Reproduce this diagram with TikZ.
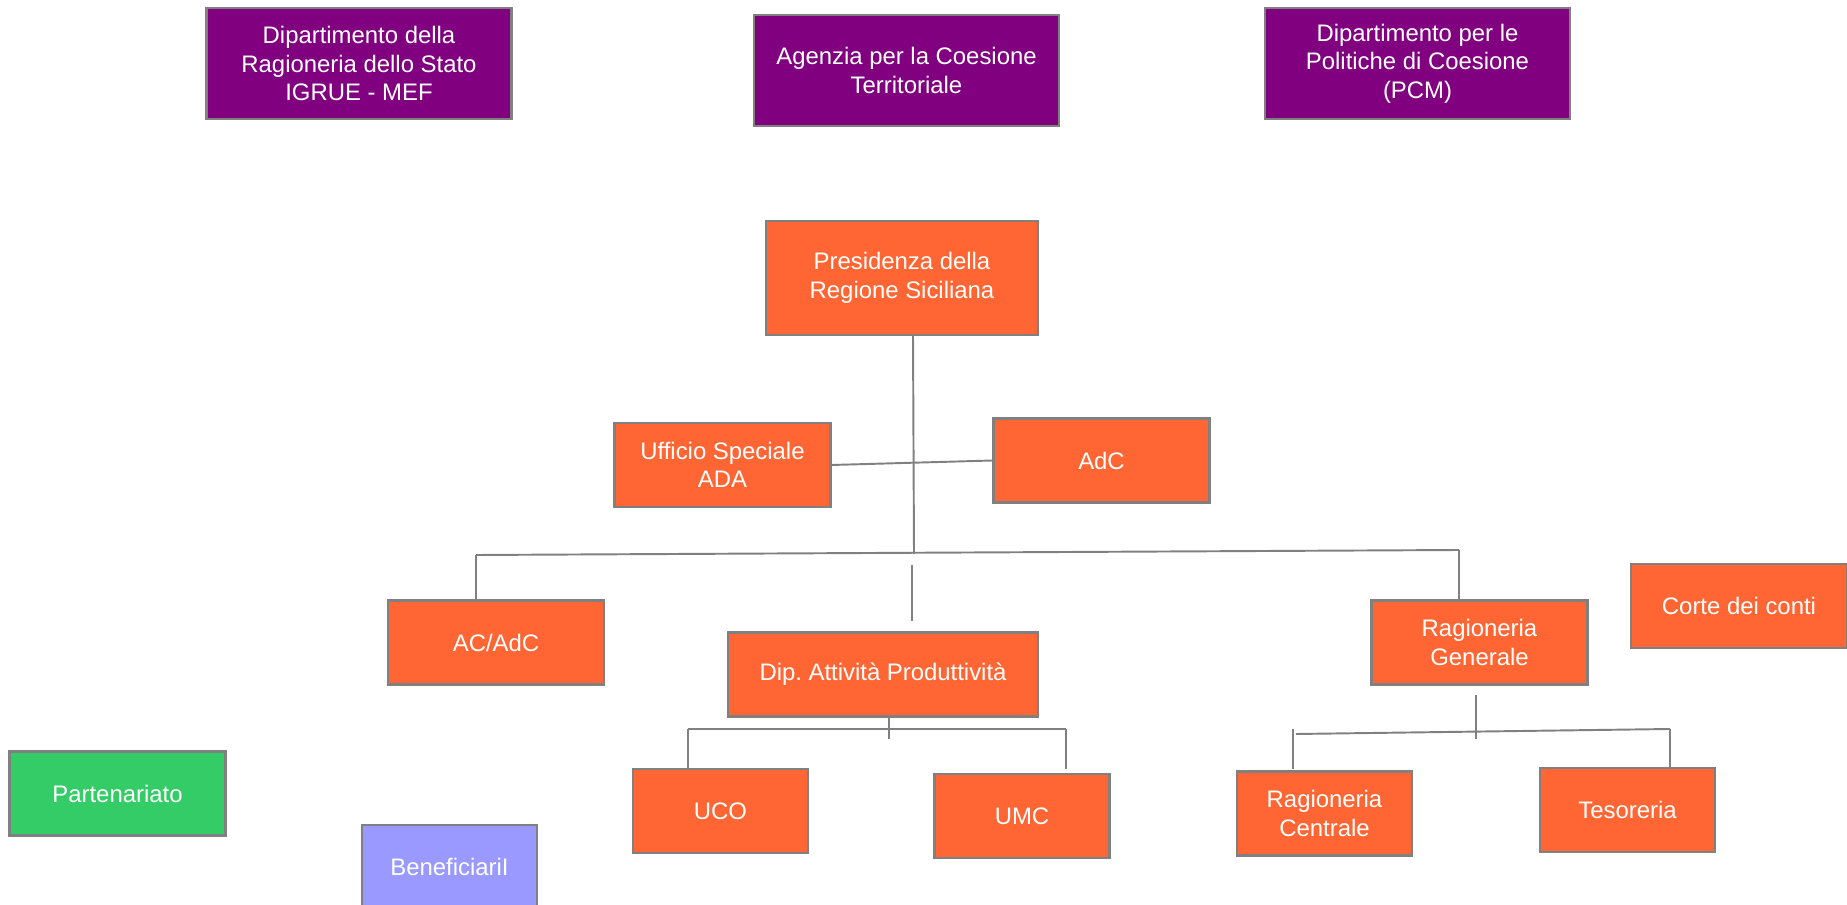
\documentclass[tikz,border=0pt]{standalone}
\usepackage{fontspec}
\setmainfont{Liberation Sans}
\usepackage{xcolor}
\definecolor{ente}{HTML}{800080}
\definecolor{regione}{HTML}{FF6633}
\definecolor{partner}{HTML}{33CC66}
\definecolor{benef}{HTML}{9999FF}
\definecolor{bordo}{HTML}{808080}
\frenchspacing

\begin{document}
\begin{tikzpicture}[x=0.02cm, y=-0.02cm,
    box/.style={draw=bordo, line width=1.3pt, text=white, align=center,
      inner sep=0pt, font=\fontsize{13.6}{16.2}\selectfont},
    stato/.style={box, fill=ente, minimum width=6.1cm, minimum height=2.22cm},
    ufficio/.style={box, fill=regione, minimum width=4.32cm, minimum height=1.68cm},
    piccolo/.style={box, fill=regione, minimum width=3.5cm, minimum height=1.68cm},
    linea/.style={draw=bordo, line width=1.1pt}]
    \clip (0,0) rectangle (1847,905);
    \useasboundingbox (0,0) rectangle (1847,905);

    % livello nazionale
    \node [stato] (igrue) at (359,63.5) {Dipartimento della\\Ragioneria dello Stato\\IGRUE - MEF};
    \node [stato] (agenzia) at (906.5,70.5) {Agenzia per la Coesione\\Territoriale};
    \node [stato] (dpcoe) at (1417.5,63.5) {Dipartimento per le\\Politiche di Coesione\\(PCM)};

    % regione
    \node [box, fill=regione, minimum width=5.44cm, minimum height=2.28cm] (presidenza)
      at (902,278) {Presidenza della\\Regione Siciliana};
    \node [ufficio] (ada) at (722.5,465) {Ufficio Speciale\\ADA};
    \node [ufficio] (adc) at (1101.5,460.5) {AdC};
    \node [ufficio] (acadc) at (496,642.5) {AC/AdC};
    \node [ufficio, minimum width=6.2cm] (dipap) at (883,674.5) {Dip. Attività Produttività};
    \node [ufficio] (raggen) at (1479.5,642.5) {Ragioneria\\Generale};
    \node [ufficio] (corte) at (1739,606) {Corte dei conti};
    \node [ufficio, fill=partner] (partenariato) at (117.5,793.5) {Partenariato};
    \node [piccolo, fill=benef] (beneficiari) at (449.5,867) {BeneficiariI};
    \node [piccolo] (uco) at (720.5,811) {UCO};
    \node [piccolo] (umc) at (1022,816) {UMC};
    \node [piccolo] (ragcen) at (1324.5,813.5) {Ragioneria\\Centrale};
    \node [piccolo] (tesoreria) at (1627.5,810) {Tesoreria};

    % punti delle linee
    \coordinate (baseP) at (913,335);
    \coordinate (nodoP) at (914,554);
    \coordinate (busL) at (476,555);
    \coordinate (busR) at (1459,550);
    \coordinate (topAC) at (476,601);
    \coordinate (topRG) at (1459,601);
    \coordinate (stubA) at (912,565);
    \coordinate (stubB) at (912,621);
    \coordinate (dipA) at (889,716);
    \coordinate (dipB) at (889,739);
    \coordinate (dipL) at (688,729);
    \coordinate (dipR) at (1066,729);
    \coordinate (topUCO) at (688,769);
    \coordinate (topUMC) at (1066,769);
    \coordinate (rgA) at (1476,695);
    \coordinate (rgB) at (1476,739);
    \coordinate (rgL) at (1296,734);
    \coordinate (rgR) at (1670,729);
    \coordinate (rcA) at (1293,729);
    \coordinate (topRC) at (1293,769);
    \coordinate (topTES) at (1670,768);

    \draw [linea] (baseP) -- (nodoP);
    \draw [linea] (ada.east) -- (adc.west);
    \draw [linea] (busL) -- (busR);
    \draw [linea] (busL) -- (topAC);
    \draw [linea] (busR) -- (topRG);
    \draw [linea] (stubA) -- (stubB);

    \draw [linea] (dipA) -- (dipB);
    \draw [linea] (dipL) -- (dipR);
    \draw [linea] (dipL) -- (topUCO);
    \draw [linea] (dipR) -- (topUMC);

    \draw [linea] (rgA) -- (rgB);
    \draw [linea] (rgL) -- (rgR);
    \draw [linea] (rcA) -- (topRC);
    \draw [linea] (rgR) -- (topTES);
\end{tikzpicture}
\end{document}
